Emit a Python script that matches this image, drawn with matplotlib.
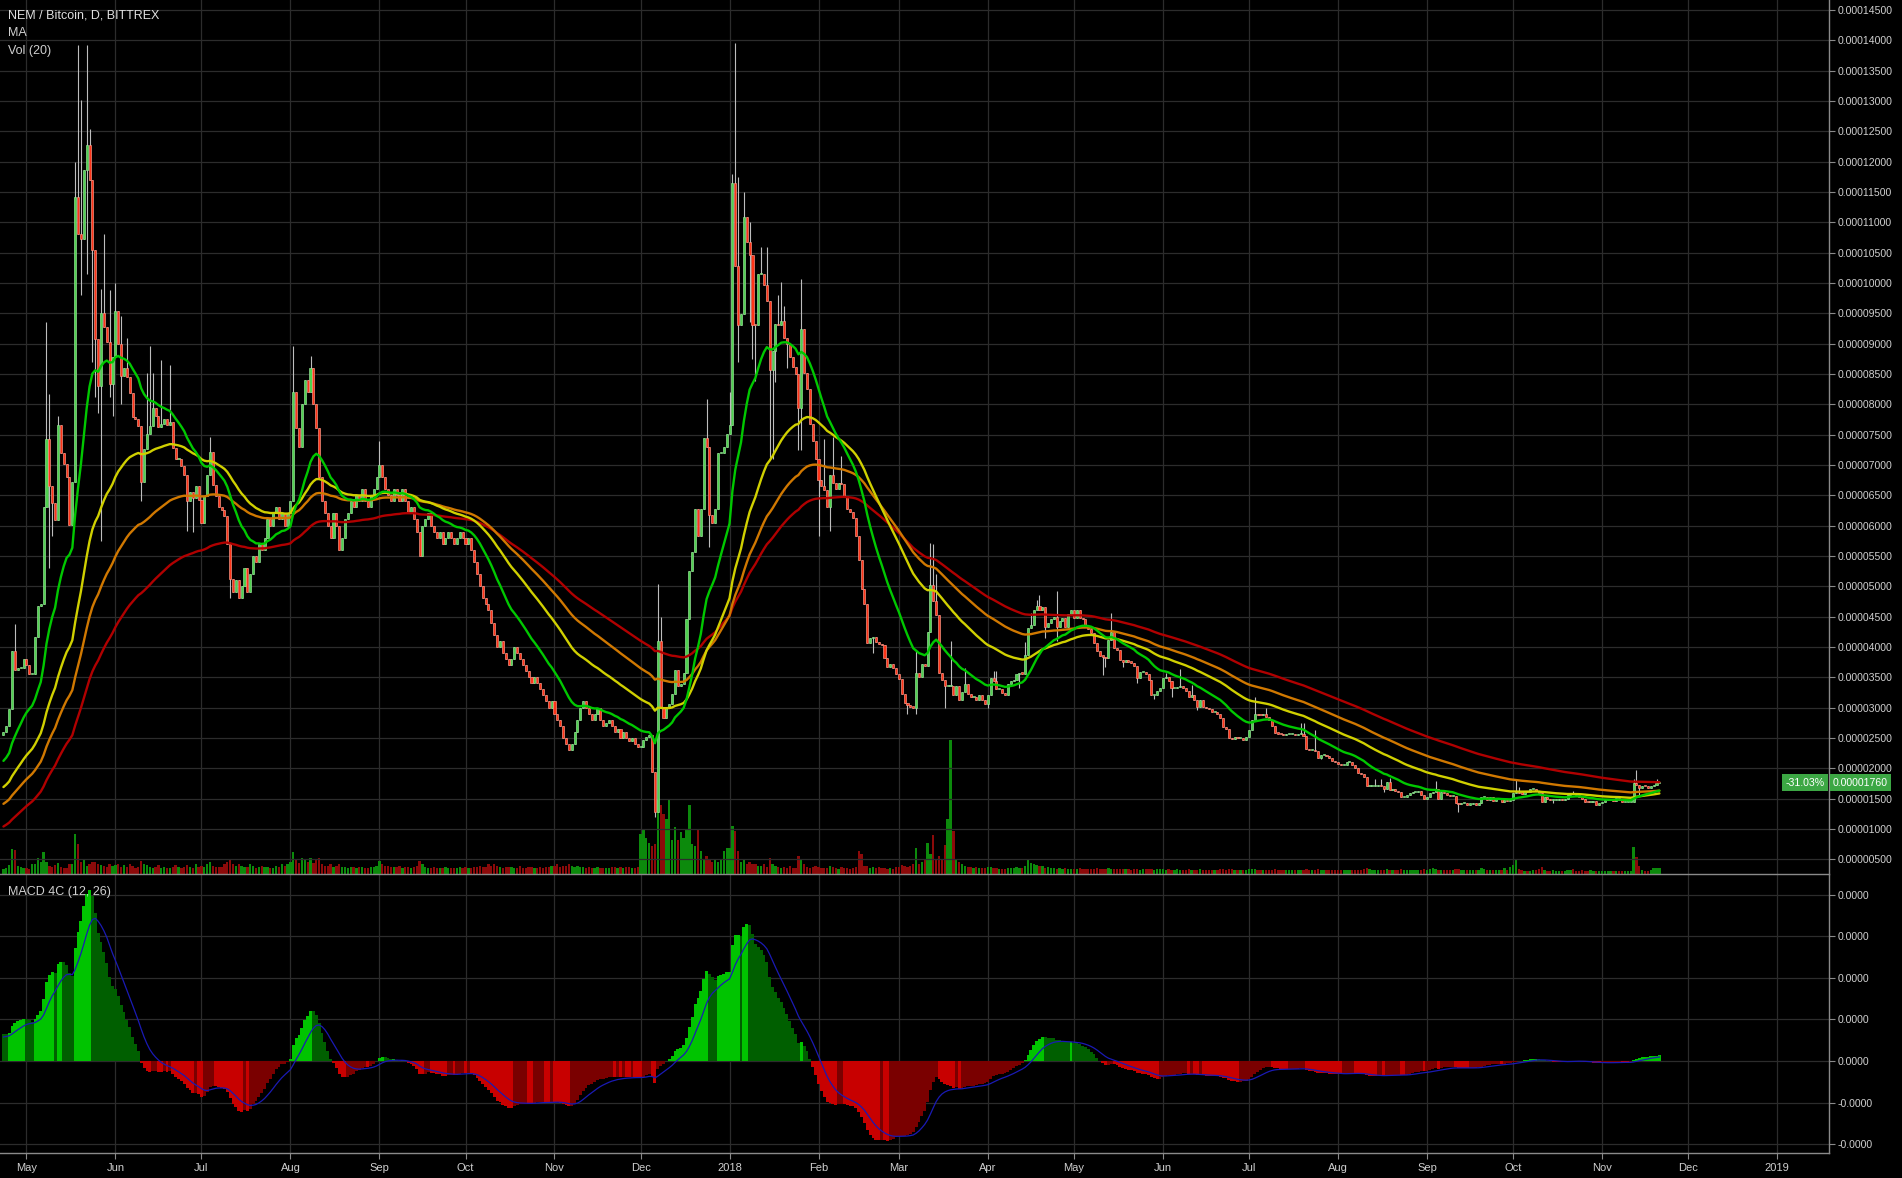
import numpy as np
import pandas as pd
import matplotlib
matplotlib.use("Agg")
import matplotlib.pyplot as plt
import matplotlib.dates as mdates
from matplotlib.ticker import FixedLocator, FuncFormatter
from matplotlib.transforms import blended_transform_factory

U = 1e-6  # prices below are in units of 1e-6 BTC
START = "2017-04-23"
OPEN_FIRST = 25.5

# ---------------- daily closes (x 1e-6 BTC) ----------------
c_2017_04 = [26.0, 27.0, 29.7, 39.3, 36.2, 36.5, 36.5, 38.0]
c_2017_05 = [37.0, 35.5, 35.5, 41.6, 46.8, 47.0, 63.1, 74.3, 66.5, 63.7, 60.9, 76.6, 71.9, 70.2, 68.0, 60.1,
             67.1, 114.2, 108.1, 107.2, 118.6, 122.7, 117.0, 105.5, 90.7, 83.0, 95.0, 92.8, 90.2, 83.4, 87.8]
c_2017_06 = [95.4, 90.0, 84.7, 86.0, 84.5, 81.8, 77.9, 77.6, 76.4, 67.1, 72.6, 75.1, 76.4, 79.4, 78.0, 76.2,
             76.8, 77.5, 76.5, 77.0, 72.8, 71.0, 71.0, 69.8, 68.4, 64.0, 65.5, 64.5, 66.5, 64.2]
c_2017_07 = [60.4, 64.9, 68.4, 72.2, 66.7, 64.9, 63.1, 62.5, 61.5, 57.0, 51.2, 49.0, 51.0, 48.0, 50.0, 53.0,
             49.0, 52.0, 55.0, 54.0, 57.0, 56.0, 58.0, 61.0, 60.0, 62.0, 63.0, 61.0, 62.0, 60.0, 62.0]
c_2017_08 = [64, 82, 76, 73, 80, 84, 82, 86, 80, 76, 68, 64, 62, 60, 58, 62, 60, 56, 58, 61,
             62, 64, 63, 65, 64, 66, 64, 63, 65, 66, 68]
c_2017_09 = [70, 68, 66, 65, 64, 66, 65, 64, 66, 64, 62, 63, 61, 59, 55, 60, 61, 62, 60, 59,
             58, 59, 57, 58, 59, 58, 57, 58, 59, 58]
c_2017_10 = [57, 58, 56, 54, 52, 50, 48, 47, 46, 44, 42, 40, 41, 39, 38, 37, 38, 40, 39, 38,
             37, 36, 35, 34, 35, 34, 33, 32, 31, 30, 31]
c_2017_11 = [29, 28, 27, 25, 24, 23, 24, 26, 28, 30, 31, 30, 29, 28, 29, 30, 28, 27, 27.5, 28,
             27, 26, 26.5, 25, 26, 25, 24.5, 25, 24, 23.5]
c_2017_12 = [23.5, 24.6, 25.1, 25.5, 19.4, 12.8, 41.0, 30.0, 28.3, 30.0, 30.5, 32.2, 36.2, 33.5, 33.8, 35.7,
             44.6, 52.5, 55.6, 62.7, 58.3, 62.7, 74.4, 73.0, 61.8, 60.5, 62.7, 72.0, 72.0, 73.0, 75.1]
c_2018_01 = [76.6, 116.5, 102.8, 93.1, 94.8, 110.8, 106.8, 104.6, 93.1, 93.0, 101.5, 101.5, 99.7, 97.1, 85.6, 88.7,
             93.3, 93.0, 93.7, 90.9, 90.0, 87.8, 86.1, 85.0, 79.4, 92.4, 85.2, 82.5, 76.8, 74.0, 71.0]
c_2018_02 = [67.5, 66.5, 65.8, 63.1, 68.4, 67.0, 66.0, 67.0, 66.8, 64.9, 62.7, 62.3, 61.2, 58.3, 54.3, 49.5,
             47.0, 40.6, 41.4, 41.6, 40.8, 40.5, 40.3, 38.2, 36.7, 37.2, 36.5, 35.5]
c_2018_03 = [34.7, 32.2, 30.7, 30.4, 30.1, 30.0, 35.7, 35.0, 37.2, 36.8, 42.5, 50.2, 47.6, 45.2, 35.7, 34.5,
             33.5, 33.5, 33.5, 32.1, 33.6, 31.2, 32.5, 33.9, 32.3, 31.7, 31.8, 31.2, 32.0, 31.2, 30.6]
c_2018_04 = [32.1, 34.9, 34.4, 33.0, 33.0, 32.4, 32.1, 33.9, 34.4, 34.6, 35.5, 35.7, 35.6, 38.7, 43.1, 43.6,
             46.0, 46.7, 46.1, 46.5, 43.3, 44.0, 44.6, 44.9, 43.3, 44.3, 44.8, 43.3, 45.5, 46.0]
c_2018_05 = [44.8, 46.1, 44.8, 44.6, 43.5, 43.0, 42.3, 40.6, 39.4, 38.5, 38.4, 38.2, 41.1, 42.5, 39.8, 39.5,
             37.8, 37.5, 37.9, 37.5, 37.4, 36.8, 34.8, 35.9, 35.9, 35.6, 34.6, 32.1, 32.1, 32.8, 33.3]
c_2018_06 = [34.8, 35.0, 34.4, 33.2, 33.2, 33.4, 33.6, 33.2, 32.8, 31.8, 32.1, 31.2, 30.1, 31.2, 30.1, 29.9,
             29.7, 29.3, 29.3, 29.0, 28.2, 26.8, 26.4, 24.9, 24.8, 25.1, 24.9, 24.9, 24.7, 25.2]
c_2018_07 = [26.3, 27.9, 29.0, 28.8, 28.7, 29.0, 28.4, 28.0, 27.0, 25.8, 25.7, 25.6, 25.4, 25.6, 25.6, 25.7,
             25.5, 25.6, 25.7, 25.3, 23.1, 23.0, 23.0, 22.8, 21.6, 22.1, 22.2, 22.0, 21.6, 21.2, 21.0]
c_2018_08 = [20.7, 20.5, 20.5, 21.0, 21.1, 20.6, 20.0, 19.2, 19.0, 18.6, 17.1, 17.1, 17.1, 17.1, 17.3, 17.0,
             16.5, 17.8, 16.4, 16.5, 16.3, 16.1, 15.2, 15.2, 15.6, 15.9, 16.1, 16.1, 16.2, 15.5, 14.9]
c_2018_09 = [15.3, 15.9, 16.1, 16.5, 15.0, 16.1, 15.9, 15.6, 15.4, 15.4, 14.2, 14.1, 14.3, 14.3, 14.0, 14.1,
             14.3, 14.0, 14.2, 15.2, 15.3, 14.8, 15.3, 14.6, 14.9, 15.0, 14.5, 14.8, 14.6, 14.7]
c_2018_10 = [15.9, 16.1, 15.9, 15.8, 16.2, 16.0, 16.5, 16.6, 16.2, 15.9, 14.5, 15.2, 15.0, 14.8, 14.8, 14.8,
             15.0, 14.8, 14.9, 15.5, 15.9, 15.7, 15.6, 15.3, 15.0, 14.5, 14.4, 14.4, 14.6, 14.0, 14.3]
c_2018_11 = [14.5, 14.7, 14.7, 14.7, 14.6, 15.1, 14.8, 14.4, 14.5, 14.5, 14.5, 17.5, 17.3, 16.8, 17.1, 17.0,
             16.8, 17.1, 17.3, 17.6, 17.6]

# ---------------- daily volume (relative units) ----------------
v_2017_04 = [5, 6, 9, 25, 24, 8, 7, 6]
v_2017_05 = [6, 5, 10, 10, 16, 12, 22, 12, 8, 7, 9, 11, 7, 6, 6, 10, 10, 40, 30, 12, 14, 8, 10, 12, 12, 10,
             9, 8, 7, 10, 8]
v_2017_06 = [9, 10, 7, 9, 7, 10, 8, 6, 7, 13, 10, 9, 7, 6, 7, 9, 6, 7, 6, 6, 7, 9, 7, 6, 7, 9, 7, 6, 10, 7]
v_2017_07 = [8, 7, 10, 12, 8, 7, 7, 7, 10, 12, 14, 10, 8, 10, 8, 7, 7, 10, 8, 6, 7, 8, 7, 7, 6, 6, 8, 7, 10, 8, 10]
v_2017_08 = [12, 22, 14, 11, 16, 14, 12, 16, 11, 14, 16, 10, 8, 8, 10, 7, 8, 10, 7, 7, 6, 7, 7, 6, 7, 7, 6, 6,
             7, 7, 8]
v_2017_09 = [13, 10, 8, 8, 7, 7, 7, 8, 6, 7, 7, 6, 7, 8, 13, 10, 7, 6, 6, 7, 6, 6, 6, 7, 6, 6, 6, 6, 7, 6]
v_2017_10 = [7, 6, 6, 7, 7, 8, 7, 7, 10, 8, 10, 8, 7, 6, 7, 7, 7, 6, 6, 8, 6, 6, 7, 7, 6, 6, 7, 6, 7, 7, 8]
v_2017_11 = [8, 10, 7, 8, 8, 10, 8, 7, 8, 7, 7, 6, 7, 6, 6, 7, 6, 6, 6, 6, 7, 7, 6, 7, 6, 7, 7, 6, 6, 7]
v_2017_12 = [40, 44, 36, 31, 28, 30, 74, 69, 60, 55, 74, 34, 47, 34, 42, 36, 44, 69, 30, 28,
             44, 23, 15, 18, 15, 12, 15, 12, 14, 23, 26]
v_2018_01 = [26, 48, 43, 23, 12, 14, 10, 12, 10, 10, 8, 8, 10, 7, 16, 10, 8, 7, 6, 7, 6, 8, 6, 6, 18, 15, 10,
             7, 6, 7, 8]
v_2018_02 = [7, 6, 6, 6, 8, 7, 6, 5, 7, 6, 6, 5, 6, 7, 23, 20, 8, 8, 6, 7, 6, 7, 6, 6, 5, 6, 5, 7]
v_2018_03 = [7, 9, 8, 7, 8, 10, 26, 10, 12, 14, 31, 20, 39, 15, 18, 14, 29, 55, 134, 43,
             15, 12, 10, 8, 7, 7, 6, 7, 6, 6, 6]
v_2018_04 = [7, 7, 6, 6, 5, 5, 5, 6, 6, 6, 7, 6, 6, 8, 14, 11, 10, 9, 8, 8, 6, 7, 6, 6, 5, 6, 5, 6, 5, 5]
v_2018_05 = [5, 5, 6, 5, 5, 5, 5, 5, 6, 5, 5, 5, 6, 5, 5, 5, 5, 5, 5, 5, 4, 5, 5, 4, 5, 5, 5, 5, 4, 5, 5]
v_2018_06 = [5, 4, 5, 4, 4, 5, 4, 4, 4, 5, 4, 4, 4, 5, 4, 4, 4, 4, 4, 4, 5, 5, 4, 5, 5, 4, 4, 4, 4, 4]
v_2018_07 = [5, 5, 5, 4, 4, 4, 4, 4, 4, 5, 4, 4, 4, 4, 4, 4, 4, 4, 4, 4, 5, 4, 4, 4, 5, 4, 4, 4, 4, 4, 4]
v_2018_08 = [4, 4, 4, 4, 4, 4, 4, 4, 4, 5, 6, 5, 4, 4, 4, 4, 4, 5, 4, 4, 4, 4, 5, 4, 4, 4, 4, 4, 4, 4, 5]
v_2018_09 = [4, 5, 6, 5, 4, 4, 4, 4, 4, 4, 5, 5, 4, 4, 4, 4, 4, 4, 4, 6, 5, 4, 4, 4, 4, 4, 4, 6, 4, 7]
v_2018_10 = [9, 14, 5, 4, 3, 3, 3, 4, 4, 5, 7, 4, 3, 3, 4, 3, 3, 3, 3, 4, 4, 5, 3, 3, 4, 3, 3, 4, 3, 3, 3]
v_2018_11 = [3, 3, 3, 3, 3, 3, 3, 3, 3, 3, 3, 27, 17, 8, 4, 3, 3, 4, 6, 6, 6]

# ---------------- notable wick extremes (x 1e-6 BTC) ----------------
wick_hi = {
    "2017-04-27": 43.7, "2017-05-08": 93.5, "2017-05-09": 81.7, "2017-05-12": 78.1, "2017-05-18": 120.0,
    "2017-05-19": 139.2, "2017-05-20": 130.2, "2017-05-22": 139.2, "2017-05-23": 125.4, "2017-05-27": 99.0,
    "2017-05-28": 108.1, "2017-05-30": 98.8, "2017-06-01": 100.0, "2017-06-03": 94.5, "2017-06-05": 91.0,
    "2017-06-12": 85.2, "2017-06-13": 89.6, "2017-06-14": 85.2, "2017-06-17": 87.3, "2017-06-20": 86.5,
    "2017-07-04": 74.6, "2017-08-02": 89.6, "2017-08-08": 88.0, "2017-09-01": 74.0,
    "2017-12-07": 50.3, "2017-12-08": 45.0, "2017-12-24": 80.8,
    "2018-01-01": 82.0, "2018-01-02": 118.0, "2018-01-03": 139.5, "2018-01-04": 117.5, "2018-01-06": 115.0,
    "2018-01-08": 110.0, "2018-01-12": 106.0, "2018-01-14": 106.0, "2018-01-18": 98.0, "2018-01-19": 100.2,
    "2018-01-20": 96.2, "2018-01-26": 100.6, "2018-02-03": 74.2, "2018-02-06": 74.6, "2018-02-09": 71.5,
    "2018-03-07": 39.5, "2018-03-12": 57.1, "2018-03-13": 57.0, "2018-03-14": 52.0, "2018-03-19": 40.9,
    "2018-03-24": 36.5, "2018-04-03": 36.0, "2018-04-04": 36.0, "2018-04-14": 40.8,
    "2018-04-16": 45.6, "2018-04-18": 47.7, "2018-04-19": 48.5, "2018-04-25": 49.2, "2018-05-14": 45.6,
    "2018-06-02": 35.7, "2018-06-07": 36.4, "2018-06-11": 33.7, "2018-07-03": 31.8, "2018-07-07": 29.9,
    "2018-07-19": 27.5, "2018-07-20": 27.5, "2018-07-24": 26.3, "2018-08-14": 18.2, "2018-08-16": 18.2,
    "2018-08-19": 18.4, "2018-09-04": 17.9, "2018-10-02": 18.2, "2018-10-03": 16.9, "2018-10-22": 16.3,
    "2018-11-12": 18.2, "2018-11-13": 19.7, "2018-11-20": 18.2,
}
wick_lo = {
    "2017-05-09": 53.0, "2017-05-10": 58.3, "2017-05-20": 98.0, "2017-05-22": 101.5, "2017-05-24": 87.0,
    "2017-05-25": 81.2, "2017-05-26": 78.6, "2017-05-27": 57.4, "2017-05-30": 81.2, "2017-05-31": 78.0,
    "2017-06-03": 80.0, "2017-06-10": 64.0, "2017-06-26": 59.1, "2017-06-28": 59.0, "2017-07-11": 48.1,
    "2017-12-06": 12.0, "2017-12-25": 56.5, "2018-01-04": 87.0, "2018-01-08": 93.5, "2018-01-09": 87.4,
    "2018-01-10": 83.9, "2018-01-15": 71.0, "2018-01-16": 71.0, "2018-01-17": 83.6, "2018-01-21": 86.0,
    "2018-01-25": 72.4, "2018-01-26": 72.4, "2018-02-01": 58.3, "2018-02-05": 59.1, "2018-02-20": 39.0,
    "2018-03-04": 28.9, "2018-03-07": 28.9, "2018-03-17": 29.9, "2018-04-01": 30.0, "2018-04-12": 33.2,
    "2018-04-21": 41.5, "2018-04-25": 41.0, "2018-05-11": 35.4, "2018-05-12": 36.7, "2018-05-18": 36.7,
    "2018-05-23": 34.1, "2018-05-29": 31.4, "2018-06-04": 31.8, "2018-06-13": 29.6, "2018-07-26": 21.5,
    "2018-08-17": 16.1, "2018-09-12": 12.8, "2018-10-15": 14.3, "2018-11-14": 15.6,
}

# moving-average ribbon (EMA span, starting value, colour) and MACD settings
MA_SPECS = [(110, 10.1, "#b00000"), (75, 13.8, "#d07800"), (48, 16.5, "#d0d000"), (20, 20.7, "#00c800")]
MACD_FAST, MACD_SLOW, MACD_SIG = 12, 26, 9
MACD_SEEDS = (24.5, 21.1, 2.8)
CHANGE_TEXT = "-31.03%"

# ---------------- assemble ----------------
closes = np.array(sum([c_2017_04, c_2017_05, c_2017_06, c_2017_07, c_2017_08, c_2017_09, c_2017_10,
                       c_2017_11, c_2017_12, c_2018_01, c_2018_02, c_2018_03, c_2018_04, c_2018_05,
                       c_2018_06, c_2018_07, c_2018_08, c_2018_09, c_2018_10, c_2018_11], []), float) * U
vols = np.array(sum([v_2017_04, v_2017_05, v_2017_06, v_2017_07, v_2017_08, v_2017_09, v_2017_10,
                     v_2017_11, v_2017_12, v_2018_01, v_2018_02, v_2018_03, v_2018_04, v_2018_05,
                     v_2018_06, v_2018_07, v_2018_08, v_2018_09, v_2018_10, v_2018_11], []), float)
n = min(len(closes), len(vols))
closes, vols = closes[:n], vols[:n]
dates = pd.date_range(START, periods=n, freq="D")
opens = np.r_[OPEN_FIRST * U, closes[:-1]]
highs = np.maximum(opens, closes)
lows = np.minimum(opens, closes)
for k, v in wick_hi.items():
    i = dates.get_indexer([pd.Timestamp(k)])[0]
    if i >= 0:
        highs[i] = max(highs[i], v * U)
for k, v in wick_lo.items():
    i = dates.get_indexer([pd.Timestamp(k)])[0]
    if i >= 0:
        lows[i] = min(lows[i], v * U)


def ema(vals, span, seed):
    a = 2.0 / (span + 1.0)
    out = np.empty(len(vals))
    v = seed
    for i, val in enumerate(vals):
        v = v + a * (val - v)
        out[i] = v
    return out


x = mdates.date2num(dates)
up = closes >= opens

# ---------------- figure ----------------
W, H = 1902, 1178
fig = plt.figure(figsize=(W / 100, H / 100), dpi=100, facecolor="black")
PR = 1829 / W
ax = fig.add_axes([0, 1 - 874 / H, PR, 874 / H])
axm = fig.add_axes([0, 1 - 1153 / H, PR, (1153 - 875) / H])

GRID = "#2c2c2c"
SPINE = "#8a8a8a"
TXT = "#cfcfcf"
FONT = ["Liberation Sans", "DejaVu Sans"]

x0 = mdates.date2num(pd.Timestamp("2017-05-01"))
xlim = (x0 - 9.2, x0 + 628.1)
months = pd.date_range("2017-05-01", "2019-01-01", freq="MS")
mx = mdates.date2num(months)
mlabels = [d.strftime("%Y") if d.month == 1 else d.strftime("%b") for d in months]

# volume (twin axis, behind)
axv = ax.twinx()
axv.set_facecolor("black")
ax.set_zorder(axv.get_zorder() + 1)
ax.patch.set_visible(False)
axv.bar(x[up], vols[up], width=0.8, color="#0c8a0c", linewidth=0)
axv.bar(x[~up], vols[~up], width=0.8, color="#8c0a0a", linewidth=0)
axv.set_ylim(0, vols.max() / 0.153)
axv.set_yticks([])
axv.tick_params(right=False, labelright=False)
for s in axv.spines.values():
    s.set_visible(False)
for xm in mx:
    axv.axvline(xm, color=GRID, lw=0.9, zorder=0)
ptick = np.arange(5, 146, 5) * U

# main price pane
ax.set_xlim(*xlim)
ax.set_ylim(2.555 * U, 146.64 * U)
for yv in ptick:
    ax.axhline(yv, color=GRID, lw=0.9, zorder=0)

ax.vlines(x, lows, highs, color="#bdbdbd", lw=0.8, zorder=3)
body_lo = np.minimum(opens, closes)
body_h = np.maximum(np.abs(closes - opens), 0.2 * U)
ax.bar(x[up], body_h[up], bottom=body_lo[up], width=0.72, color="#4fd24f", edgecolor="#9be89b",
       linewidth=0.45, zorder=4)
ax.bar(x[~up], body_h[~up], bottom=body_lo[~up], width=0.72, color="#ff3418", edgecolor="#ff9c8c",
       linewidth=0.45, zorder=4)

for span, seed, col in MA_SPECS:
    ax.plot(x, ema(closes, span, seed * U), color=col, lw=1.7, zorder=5, solid_capstyle="round")

ax.yaxis.tick_right()
ax.yaxis.set_major_locator(FixedLocator(ptick))
ax.yaxis.set_major_formatter(FuncFormatter(lambda v, p: f"{v:.8f}"))
ax.tick_params(axis="y", colors=SPINE, labelcolor=TXT, labelsize=7.6, length=4, width=0.8, pad=2)
ax.set_xticks(mx)
ax.tick_params(axis="x", bottom=False, labelbottom=False)
for s in ["top", "left"]:
    ax.spines[s].set_visible(False)
for s in ["right", "bottom"]:
    ax.spines[s].set_color(SPINE)
    ax.spines[s].set_linewidth(1.0)
for lab in ax.get_yticklabels():
    lab.set_family(FONT)

# last-price label
last = closes[-1]
tr = blended_transform_factory(ax.transAxes, ax.transData)
box_c = "#3ca744"
ax.text(1.0 + 4 / 1829, last, f"{last:.8f}", transform=tr, ha="left", va="center", fontsize=7.6,
        color="white", family=FONT, zorder=10, clip_on=False,
        bbox=dict(boxstyle="square,pad=0.32", fc=box_c, ec="none"))
ax.text(1.0 - 4 / 1829, last, CHANGE_TEXT, transform=tr, ha="right", va="center", fontsize=7.6,
        color="white", family=FONT, zorder=10, clip_on=False,
        bbox=dict(boxstyle="square,pad=0.32", fc=box_c, ec="none"))

# ---------------- MACD pane ----------------
macd = ema(closes, MACD_FAST, MACD_SEEDS[0] * U) - ema(closes, MACD_SLOW, MACD_SEEDS[1] * U)
sig = ema(macd, MACD_SIG, MACD_SEEDS[2] * U)
prev = np.r_[(MACD_SEEDS[0] - MACD_SEEDS[1]) * U, macd[:-1]]
cols = np.where(macd >= 0, np.where(macd > prev, "#00c400", "#005f00"),
                np.where(macd < prev, "#c80000", "#7a0000"))
axm.set_facecolor("black")
axm.set_xlim(*xlim)
axm.set_ylim(-11.08 * U, 22.4 * U)
mt = np.arange(-10, 21, 5) * U
for yv in mt:
    axm.axhline(yv, color=GRID, lw=0.9, zorder=0)
for xm in mx:
    axm.axvline(xm, color=GRID, lw=0.9, zorder=0)
axm.bar(x, macd, width=1.0, color=cols, linewidth=0, zorder=2)
axm.plot(x, sig, color="#1a1ab4", lw=0.9, zorder=3)
axm.yaxis.tick_right()
axm.yaxis.set_major_locator(FixedLocator(mt))
axm.yaxis.set_major_formatter(FuncFormatter(lambda v, p: f"{v:.4f}"))
axm.tick_params(axis="y", colors=SPINE, labelcolor=TXT, labelsize=7.6, length=4, width=0.8, pad=2)
axm.set_xticks(mx)
axm.set_xticklabels(mlabels)
axm.tick_params(axis="x", colors=SPINE, labelcolor=TXT, labelsize=8, length=4, width=0.8, pad=3)
for lab in axm.get_yticklabels() + axm.get_xticklabels():
    lab.set_family(FONT)
for s in ["top", "left"]:
    axm.spines[s].set_visible(False)
for s in ["right", "bottom"]:
    axm.spines[s].set_color(SPINE)
    axm.spines[s].set_linewidth(1.0)

# ---------------- legends ----------------
fig.text(8 / W, 1 - 16 / H, "NEM / Bitcoin, D, BITTREX", color="#e0e0e0", fontsize=9, family=FONT,
         va="center", ha="left")
fig.text(8 / W, 1 - 33 / H, "MA", color=TXT, fontsize=9, family=FONT, va="center", ha="left")
fig.text(8 / W, 1 - 51 / H, "Vol (20)", color=TXT, fontsize=9, family=FONT, va="center", ha="left")
fig.text(8 / W, 1 - 892 / H, "MACD 4C (12, 26)", color=TXT, fontsize=9, family=FONT, va="center", ha="left")

fig.savefig("out.png", dpi=100, facecolor="black")
